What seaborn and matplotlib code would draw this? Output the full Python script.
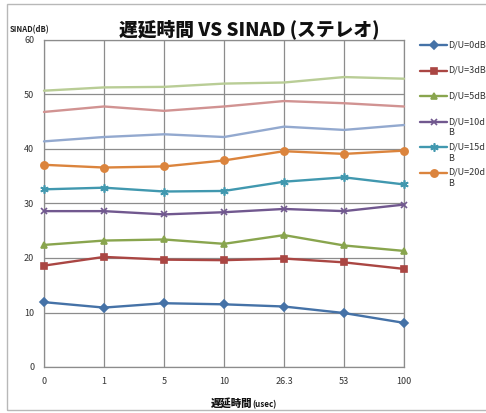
import matplotlib
matplotlib.use("Agg")
import matplotlib.pyplot as plt
from matplotlib.lines import Line2D
from matplotlib.patches import Rectangle
import seaborn as sns
import pandas as pd

sns.set_theme(style="white")
plt.rcParams['font.family'] = ['Noto Sans CJK JP', 'DejaVu Sans']

# delay settings (usec), shown as evenly spaced categories
delays = ["0", "1", "5", "10", "26.3", "53", "100"]

du_0dB = [11.9, 10.9, 11.7, 11.5, 11.1, 9.9, 8.1]
du_3dB = [18.6, 20.2, 19.7, 19.6, 19.9, 19.2, 18.0]
du_5dB = [22.4, 23.2, 23.4, 22.6, 24.2, 22.3, 21.3]
du_10dB = [28.6, 28.6, 28.0, 28.4, 29.0, 28.6, 29.8]
du_15dB = [32.6, 32.9, 32.2, 32.3, 34.0, 34.8, 33.5]
du_20dB = [37.1, 36.6, 36.8, 37.9, 39.6, 39.1, 39.7]
du_25dB = [41.4, 42.2, 42.7, 42.2, 44.1, 43.5, 44.4]
du_30dB = [46.8, 47.8, 47.0, 47.8, 48.8, 48.4, 47.8]
du_40dB = [50.7, 51.3, 51.4, 52.0, 52.2, 53.2, 52.9]

series = [
    ("D/U=0dB", du_0dB, "#4572A7", "D", 3.8),
    ("D/U=3dB", du_3dB, "#AA4643", "s", 4.6),
    ("D/U=5dB", du_5dB, "#89A54E", "^", 5.0),
    ("D/U=10dB", du_10dB, "#71588F", "x", 5.0),
    ("D/U=15dB", du_15dB, "#4198AF", (6, 2, 0), 6.0),
    ("D/U=20dB", du_20dB, "#DB843D", "o", 5.2),
    ("D/U=25dB", du_25dB, "#93A9CF", None, 0),
    ("D/U=30dB", du_30dB, "#D19392", None, 0),
    ("D/U=40dB", du_40dB, "#B9CD96", None, 0),
]

fig = plt.figure(figsize=(4.86, 4.13), dpi=100)
ax = fig.add_axes([44 / 486, 1 - 367 / 413, 360 / 486, 327 / 413])

# outer chart frame
fig.add_artist(Rectangle((7 / 486, 1 - 410 / 413), 0.99, (410 - 3.5) / 413,
                         transform=fig.transFigure, fill=False,
                         edgecolor="#b8b8b8", linewidth=1.0))

pos = list(range(len(delays)))
for name, vals, col, mk, ms in series:
    df = pd.DataFrame({"delay": pos, "sinad": vals})
    kw = dict(marker=mk, markersize=ms, markeredgecolor=col,
              markerfacecolor=col, markeredgewidth=1.2) if mk else {}
    sns.lineplot(data=df, x="delay", y="sinad", ax=ax, color=col,
                 linewidth=1.7, clip_on=False, zorder=3, **kw)

ax.set_xlim(0, 6)
ax.set_ylim(0, 60)
ax.set_xticks(pos)
ax.set_xticklabels(delays)
ax.set_yticks(range(0, 61, 10))
ax.grid(True, color="#8c8c8c", linewidth=0.9)
for s in ax.spines.values():
    s.set_color("#8c8c8c")
    s.set_linewidth(0.9)
ax.tick_params(axis="both", labelsize=6.5, labelcolor="#333333", length=3,
               width=0.9, direction="out", pad=4, color="#8c8c8c")
ax.set_xlabel("")
ax.set_ylabel("")

fig.text(10 / 486, 1 - 32 / 413, "SINAD(dB)", fontsize=5.5,
         fontweight="bold", color="#222222", va="baseline")
fig.text(249 / 486, 1 - 35 / 413, "遅延時間 VS SINAD (ステレオ)", fontsize=13.5,
         fontweight="heavy", ha="center", va="baseline", color="#111111")
fig.text(252 / 486, 1 - 407 / 413, "遅延時間", fontsize=7.5, fontweight="heavy",
         ha="right", va="baseline", color="#111111")
fig.text(252 / 486, 1 - 407 / 413, "(usec)", fontsize=5.8, fontweight="bold",
         ha="left", va="baseline", color="#111111")

# legend entries on the right side
labels = ["D/U=0dB", "D/U=3dB", "D/U=5dB", "D/U=10d\nB", "D/U=15d\nB", "D/U=20d\nB"]
ys = [45, 70.5, 96, 121.5, 147, 172.5]
for (name, vals, col, mk, ms), lab, y in zip(series, labels, ys):
    yf = 1 - y / 413
    fig.add_artist(Line2D([420 / 486, 447 / 486], [yf, yf],
                          transform=fig.transFigure, color=col, linewidth=1.7))
    fig.add_artist(Line2D([433.5 / 486], [yf], transform=fig.transFigure,
                          color=col, marker=mk, markersize=ms,
                          markeredgewidth=1.2, linestyle="none"))
    fig.text(448 / 486, yf + 4.5 / 413, lab, fontsize=6.5, color="#333333",
             va="top", ha="left", linespacing=1.35)

fig.savefig("out.png", dpi=100)
